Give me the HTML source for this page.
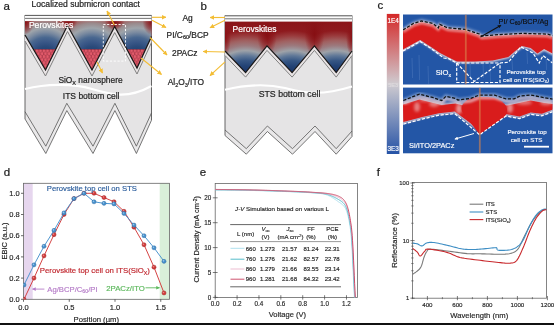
<!DOCTYPE html><html><head><meta charset="utf-8"><style>html,body{margin:0;padding:0;background:#fff;width:554px;height:325px;overflow:hidden}svg{display:block;will-change:transform}</style></head><body><svg width="554" height="325" viewBox="0 0 554 325" font-family="Liberation Sans, sans-serif">
<defs>
<pattern id="nano" width="3.5" height="6.06" patternUnits="userSpaceOnUse" x="1" y="0.6">
  <rect width="3.5" height="6.06" fill="#b23e4e"/>
  <circle cx="0.875" cy="1.515" r="1.42" fill="#e25a6a"/>
  <circle cx="2.625" cy="4.545" r="1.42" fill="#e25a6a"/>
</pattern>
<marker id="arrY" viewBox="0 0 10 10" refX="9" refY="5" markerWidth="4.6" markerHeight="4.6" orient="auto-start-reverse" markerUnits="userSpaceOnUse">
  <path d="M0,0 L10,5 L0,10 z" fill="#f3bd34"/>
</marker>
<marker id="arrW" viewBox="0 0 10 10" refX="9" refY="5" markerWidth="3.5" markerHeight="3.5" orient="auto" markerUnits="userSpaceOnUse">
  <path d="M0,0 L10,5 L0,10 z" fill="#ffffff"/>
</marker>
<marker id="arrK" viewBox="0 0 10 10" refX="9" refY="5" markerWidth="3.5" markerHeight="3.5" orient="auto" markerUnits="userSpaceOnUse">
  <path d="M0,0 L10,5 L0,10 z" fill="#111"/>
</marker>
<marker id="arrP" viewBox="0 0 10 10" refX="9" refY="5" markerWidth="3.6" markerHeight="3.6" orient="auto" markerUnits="userSpaceOnUse">
  <path d="M0,0 L10,5 L0,10 z" fill="#b57cc8"/>
</marker>
<marker id="arrG" viewBox="0 0 10 10" refX="9" refY="5" markerWidth="3.6" markerHeight="3.6" orient="auto" markerUnits="userSpaceOnUse">
  <path d="M0,0 L10,5 L0,10 z" fill="#5cb85c"/>
</marker>
<linearGradient id="cbar" x1="0" y1="0" x2="0" y2="1">
  <stop offset="0" stop-color="#d42828"/>
  <stop offset="0.5" stop-color="#cfcbd0"/>
  <stop offset="1" stop-color="#2653a6"/>
</linearGradient>
<filter id="blur1" x="-10%" y="-30%" width="120%" height="160%"><feGaussianBlur stdDeviation="1.2"/></filter>
<filter id="blur05" x="-10%" y="-30%" width="120%" height="160%"><feGaussianBlur stdDeviation="0.6"/></filter>

<radialGradient id="pa0" gradientUnits="userSpaceOnUse" cx="45.5" cy="58" r="44"><stop offset="0" stop-color="#183668"/><stop offset="0.26" stop-color="#2a4a7a"/><stop offset="0.37" stop-color="#3a5888"/><stop offset="0.47" stop-color="#4a6890"/><stop offset="0.58" stop-color="#7a8aa0"/><stop offset="0.68" stop-color="#9ea4aa"/><stop offset="0.79" stop-color="#9a8a8c"/><stop offset="0.89" stop-color="#a06060"/><stop offset="0.95" stop-color="#8e2a2a"/><stop offset="1" stop-color="#861818"/></radialGradient>
<radialGradient id="pa1" gradientUnits="userSpaceOnUse" cx="92" cy="58" r="44"><stop offset="0" stop-color="#183668"/><stop offset="0.26" stop-color="#2a4a7a"/><stop offset="0.37" stop-color="#3a5888"/><stop offset="0.47" stop-color="#4a6890"/><stop offset="0.58" stop-color="#7a8aa0"/><stop offset="0.68" stop-color="#9ea4aa"/><stop offset="0.79" stop-color="#9a8a8c"/><stop offset="0.89" stop-color="#a06060"/><stop offset="0.95" stop-color="#8e2a2a"/><stop offset="1" stop-color="#861818"/></radialGradient>
<radialGradient id="pa2" gradientUnits="userSpaceOnUse" cx="137" cy="58" r="44"><stop offset="0" stop-color="#183668"/><stop offset="0.26" stop-color="#2a4a7a"/><stop offset="0.37" stop-color="#3a5888"/><stop offset="0.47" stop-color="#4a6890"/><stop offset="0.58" stop-color="#7a8aa0"/><stop offset="0.68" stop-color="#9ea4aa"/><stop offset="0.79" stop-color="#9a8a8c"/><stop offset="0.89" stop-color="#a06060"/><stop offset="0.95" stop-color="#8e2a2a"/><stop offset="1" stop-color="#861818"/></radialGradient>
<radialGradient id="pb0" gradientUnits="userSpaceOnUse" cx="245.6" cy="90" r="70"><stop offset="0" stop-color="#163468"/><stop offset="0.277" stop-color="#1c386a"/><stop offset="0.349" stop-color="#244476"/><stop offset="0.42" stop-color="#365684"/><stop offset="0.491" stop-color="#607898"/><stop offset="0.563" stop-color="#9ea2a8"/><stop offset="0.634" stop-color="#9c7a7e"/><stop offset="0.706" stop-color="#a06060"/><stop offset="0.777" stop-color="#9a3a3c"/><stop offset="0.849" stop-color="#8e1a1e"/><stop offset="1" stop-color="#8a1418"/></radialGradient>
<radialGradient id="pb1" gradientUnits="userSpaceOnUse" cx="292.1" cy="90" r="70"><stop offset="0" stop-color="#163468"/><stop offset="0.277" stop-color="#1c386a"/><stop offset="0.349" stop-color="#244476"/><stop offset="0.42" stop-color="#365684"/><stop offset="0.491" stop-color="#607898"/><stop offset="0.563" stop-color="#9ea2a8"/><stop offset="0.634" stop-color="#9c7a7e"/><stop offset="0.706" stop-color="#a06060"/><stop offset="0.777" stop-color="#9a3a3c"/><stop offset="0.849" stop-color="#8e1a1e"/><stop offset="1" stop-color="#8a1418"/></radialGradient>
<radialGradient id="pb2" gradientUnits="userSpaceOnUse" cx="336.2" cy="90" r="70"><stop offset="0" stop-color="#163468"/><stop offset="0.277" stop-color="#1c386a"/><stop offset="0.349" stop-color="#244476"/><stop offset="0.42" stop-color="#365684"/><stop offset="0.491" stop-color="#607898"/><stop offset="0.563" stop-color="#9ea2a8"/><stop offset="0.634" stop-color="#9c7a7e"/><stop offset="0.706" stop-color="#a06060"/><stop offset="0.777" stop-color="#9a3a3c"/><stop offset="0.849" stop-color="#8e1a1e"/><stop offset="1" stop-color="#8a1418"/></radialGradient>
<radialGradient id="streak"><stop offset="0" stop-color="#860e12" stop-opacity="0.95"/><stop offset="0.6" stop-color="#8a1418" stop-opacity="0.5"/><stop offset="1" stop-color="#8a1418" stop-opacity="0"/></radialGradient>
</defs>
<rect width="554" height="325" fill="#ffffff"/>
<polygon points="25.00,15.00 151.50,15.00 151.50,112.90 136.40,146.20 114.90,103.30 93.00,146.20 66.80,103.30 45.80,146.20 25.00,111.70" fill="#e5e4e5"/>
<polygon points="25.00,111.70 45.80,146.20 66.80,103.30 93.00,146.20 114.90,103.30 136.40,146.20 151.50,112.90 151.50,120.20 136.40,153.50 114.90,110.60 93.00,153.50 66.80,110.60 45.80,153.50 25.00,119.00" fill="#e9e8e9"/>
<polyline points="25.00,111.70 45.80,146.20 66.80,103.30 93.00,146.20 114.90,103.30 136.40,146.20 151.50,112.90" fill="none" stroke="#555" stroke-width="0.8"/>
<polyline points="25.00,119.00 45.80,153.50 66.80,110.60 93.00,153.50 114.90,110.60 136.40,153.50 151.50,120.20" fill="none" stroke="#555" stroke-width="0.8"/>
<line x1="25" y1="15" x2="25" y2="119.0" stroke="#555" stroke-width="0.9"/>
<line x1="151.5" y1="15" x2="151.5" y2="120.2" stroke="#555" stroke-width="0.9"/>
<polygon points="25.00,35.00 45.50,70.00 67.50,25.50 92.00,70.00 114.70,26.50 137.00,68.00 151.50,36.50 151.50,42.50 137.00,74.00 114.70,32.50 92.00,76.00 67.50,31.50 45.50,76.00 25.00,41.00" fill="#e9e4e5"/>
<polyline points="25.00,41.00 45.50,76.00 67.50,31.50 92.00,76.00 114.70,32.50 137.00,74.00 151.50,42.50" fill="none" stroke="#808080" stroke-width="1"/>
<polygon points="25.00,21.10 151.50,21.10 151.50,36.50 137.00,68.00 114.70,26.50 92.00,70.00 67.50,25.50 45.50,70.00 25.00,35.00" fill="#8a1418"/>
<polygon points="25.00,21.10 67.50,21.10 67.50,25.50 55.63,49.50 33.49,49.50 25.00,35.00" fill="url(#pa0)"/>
<polygon points="67.50,21.10 114.70,21.10 114.70,26.50 102.70,49.50 80.71,49.50 67.50,25.50" fill="url(#pa1)"/>
<polygon points="114.70,21.10 151.50,21.10 151.50,36.50 145.52,49.50 127.06,49.50 114.70,26.50" fill="url(#pa2)"/>
<clipPath id="clippa"><polygon points="25.00,21.10 151.50,21.10 151.50,36.50 137.00,68.00 114.70,26.50 92.00,70.00 67.50,25.50 45.50,70.00 25.00,35.00"/></clipPath>
<g clip-path="url(#clippa)">
<ellipse cx="67.5" cy="21" rx="10" ry="9" fill="url(#streak)"/>
<ellipse cx="114.7" cy="21" rx="10" ry="9" fill="url(#streak)"/>
<ellipse cx="25" cy="22" rx="9" ry="13" fill="url(#streak)"/>
<ellipse cx="151.5" cy="22" rx="9" ry="13" fill="url(#streak)"/>
</g>
<polygon points="33.49,49.50 45.50,70.00 55.63,49.50" fill="url(#nano)"/>
<polygon points="80.71,49.50 92.00,70.00 102.70,49.50" fill="url(#nano)"/>
<polygon points="127.06,49.50 137.00,68.00 145.52,49.50" fill="url(#nano)"/>
<polyline points="25.00,35.00 45.50,70.00 67.50,25.50 92.00,70.00 114.70,26.50 137.00,68.00 151.50,36.50" fill="none" stroke="#1a1a1a" stroke-width="1.25" stroke-linejoin="miter"/>
<rect x="25" y="15" width="126.5" height="6.1" fill="#fbfbfb" stroke="none"/>
<line x1="25" y1="15.4" x2="151.5" y2="15.4" stroke="#555" stroke-width="1"/>
<line x1="25" y1="18.4" x2="151.5" y2="18.4" stroke="#666" stroke-width="0.9"/>
<path d="M25,89 C45,84 72,83 92,89 S128,99 151.5,86" fill="none" stroke="#ffffff" stroke-width="2.1"/>
<text x="58.4" y="82.9" font-size="8.4" fill="#262626" stroke="#262626" stroke-width="0.22" text-anchor="start" >SiO<tspan font-size="5.5" dy="1.6">X</tspan><tspan dy="-1.6"> nanosphere</tspan></text>
<text x="62.8" y="98.7" font-size="8.5" fill="#262626" stroke="#262626" stroke-width="0.22" text-anchor="start" >ITS bottom cell</text>
<text x="28.9" y="28.3" font-size="8.6" fill="#ffffff" stroke="#ffffff" stroke-width="0.22" text-anchor="start" >Perovskites</text>
<rect x="103.3" y="24.5" width="22.2" height="36.6" fill="none" stroke="#ffffff" stroke-width="0.9" stroke-dasharray="2.2,1.6"/>
<text x="31.5" y="7" font-size="8.6" fill="#262626" stroke="#262626" stroke-width="0.22" text-anchor="start" >Localized submicron contact</text>
<text x="3.5" y="9.5" font-size="11.5" fill="#222" stroke="#222" stroke-width="0.22" text-anchor="start" >a</text>
<polygon points="225.00,15.40 352.00,15.40 352.00,131.00 336.20,148.70 315.00,126.00 292.50,148.70 267.40,126.00 246.30,148.70 225.00,130.00" fill="#e5e4e5"/>
<polygon points="225.00,130.00 246.30,148.70 267.40,126.00 292.50,148.70 315.00,126.00 336.20,148.70 352.00,131.00 352.00,136.50 336.20,154.20 315.00,131.50 292.50,154.20 267.40,131.50 246.30,154.20 225.00,135.50" fill="#e9e8e9"/>
<polyline points="225.00,130.00 246.30,148.70 267.40,126.00 292.50,148.70 315.00,126.00 336.20,148.70 352.00,131.00" fill="none" stroke="#555" stroke-width="0.8"/>
<polyline points="225.00,135.50 246.30,154.20 267.40,131.50 292.50,154.20 315.00,131.50 336.20,154.20 352.00,136.50" fill="none" stroke="#555" stroke-width="0.8"/>
<line x1="225" y1="15.4" x2="225" y2="135.5" stroke="#555" stroke-width="0.9"/>
<line x1="352" y1="15.4" x2="352" y2="136.5" stroke="#555" stroke-width="0.9"/>
<polygon points="225.00,51.00 245.60,72.60 267.00,45.90 292.10,72.60 314.40,45.90 336.20,72.60 352.00,51.00 352.00,55.50 336.20,77.10 314.40,50.40 292.10,77.10 267.00,50.40 245.60,77.10 225.00,55.50" fill="#e9e4e5"/>
<polyline points="225.00,55.50 245.60,77.10 267.00,50.40 292.10,77.10 314.40,50.40 336.20,77.10 352.00,55.50" fill="none" stroke="#808080" stroke-width="1"/>
<polygon points="225.00,21.50 352.00,21.50 352.00,51.00 336.20,72.60 314.40,45.90 292.10,72.60 267.00,45.90 245.60,72.60 225.00,51.00" fill="#8a1418"/>
<polygon points="225.00,21.50 267.00,21.50 267.00,45.90 245.60,72.60 225.00,51.00" fill="url(#pb0)"/>
<polygon points="267.00,21.50 314.40,21.50 314.40,45.90 292.10,72.60 267.00,45.90" fill="url(#pb1)"/>
<polygon points="314.40,21.50 352.00,21.50 352.00,51.00 336.20,72.60 314.40,45.90" fill="url(#pb2)"/>
<clipPath id="clippb"><polygon points="225.00,21.50 352.00,21.50 352.00,51.00 336.20,72.60 314.40,45.90 292.10,72.60 267.00,45.90 245.60,72.60 225.00,51.00"/></clipPath>
<g clip-path="url(#clippb)">
<ellipse cx="267" cy="34" rx="10" ry="22" fill="url(#streak)"/>
<ellipse cx="314.4" cy="34" rx="10" ry="22" fill="url(#streak)"/>
<ellipse cx="225" cy="38" rx="6" ry="18" fill="url(#streak)"/>
<ellipse cx="352" cy="38" rx="6" ry="18" fill="url(#streak)"/>
</g>
<polyline points="225.00,51.00 245.60,72.60 267.00,45.90 292.10,72.60 314.40,45.90 336.20,72.60 352.00,51.00" fill="none" stroke="#1a1a1a" stroke-width="1.25" stroke-linejoin="miter"/>
<rect x="225" y="15.4" width="127" height="6.1" fill="#fbfbfb" stroke="none"/>
<line x1="225" y1="15.8" x2="352" y2="15.8" stroke="#555" stroke-width="1"/>
<line x1="225" y1="18.8" x2="352" y2="18.8" stroke="#666" stroke-width="0.9"/>
<path d="M225,89.7 C245,85 268,84 285,88 S318,97 352,86.4" fill="none" stroke="#ffffff" stroke-width="2.1"/>
<text x="258.7" y="97.2" font-size="8.75" fill="#262626" stroke="#262626" stroke-width="0.22" text-anchor="start" >STS bottom cell</text>
<text x="232.5" y="31.5" font-size="8.5" fill="#ffffff" stroke="#ffffff" stroke-width="0.22" text-anchor="start" >Perovskites</text>
<text x="200.5" y="9.5" font-size="11.5" fill="#222" stroke="#222" stroke-width="0.22" text-anchor="start" >b</text>
<text x="182.4" y="21" font-size="8.4" fill="#262626" stroke="#262626" stroke-width="0.22" text-anchor="start" >Ag</text>
<text x="166.6" y="37.5" font-size="8.4" fill="#262626" stroke="#262626" stroke-width="0.22" text-anchor="start" >PI/C<tspan font-size="5.5" dy="1.6">60</tspan><tspan dy="-1.6">/BCP</tspan></text>
<text x="172" y="56" font-size="8.4" fill="#262626" stroke="#262626" stroke-width="0.22" text-anchor="start" >2PACz</text>
<text x="167.7" y="85" font-size="8.4" fill="#262626" stroke="#262626" stroke-width="0.22" text-anchor="start" >Al<tspan font-size="5.5" dy="1.6">2</tspan><tspan dy="-1.6">O</tspan><tspan font-size="5.5" dy="1.6">3</tspan><tspan dy="-1.6">/ITO</tspan></text>
<line x1="152" y1="17.3" x2="166" y2="17.3" stroke="#f3bd34" stroke-width="1.15" marker-end="url(#arrY)"/>
<line x1="152" y1="20.3" x2="166" y2="27.5" stroke="#f3bd34" stroke-width="1.15" marker-end="url(#arrY)"/>
<line x1="150" y1="37.5" x2="167" y2="55" stroke="#f3bd34" stroke-width="1.15" marker-end="url(#arrY)"/>
<line x1="141" y1="58" x2="161.5" y2="74.5" stroke="#f3bd34" stroke-width="1.15" marker-end="url(#arrY)"/>
<line x1="225" y1="17.5" x2="210" y2="17.5" stroke="#f3bd34" stroke-width="1.15" marker-end="url(#arrY)"/>
<line x1="225" y1="20.3" x2="210" y2="27.7" stroke="#f3bd34" stroke-width="1.15" marker-end="url(#arrY)"/>
<line x1="225" y1="52" x2="203" y2="51.5" stroke="#f3bd34" stroke-width="1.15" marker-end="url(#arrY)"/>
<line x1="225" y1="61.8" x2="210" y2="75.6" stroke="#f3bd34" stroke-width="1.15" marker-end="url(#arrY)"/>
<line x1="114.4" y1="25" x2="107" y2="11" stroke="#f3bd34" stroke-width="1.15" marker-end="url(#arrY)"/>
<line x1="97" y1="62" x2="102.5" y2="73" stroke="#f3bd34" stroke-width="1.15" marker-end="url(#arrY)"/>
<text x="377.5" y="9" font-size="11.5" fill="#222" stroke="#222" stroke-width="0.22" text-anchor="start" >c</text>
<rect x="386.8" y="13.9" width="12.6" height="140.1" fill="url(#cbar)"/>
<text x="393.1" y="22.9" font-size="6.4" fill="#ffffff" stroke="#ffffff" stroke-width="0.16" text-anchor="middle" >1E4</text>
<text x="393.1" y="86.6" font-size="5.5" fill="#e8e4e6" stroke="#e8e4e6" stroke-width="0.16" text-anchor="middle" opacity="0.6">5E3</text>
<text x="393.1" y="150.9" font-size="6.4" fill="#ffffff" stroke="#ffffff" stroke-width="0.16" text-anchor="middle" >3E3</text>
<clipPath id="cc1"><rect x="403" y="14.5" width="149.5" height="70"/></clipPath>
<clipPath id="cc2"><rect x="403" y="87.6" width="149.5" height="65.7"/></clipPath>
<rect x="403" y="14.5" width="149.5" height="70" fill="#2356a6"/>
<g clip-path="url(#cc1)">
<polyline points="403.00,28.80 413.70,22.10 421.70,19.80 433.20,22.40 438.30,26.70 439.70,23.10 447.70,26.70 465.00,28.10 479.20,32.80 481.40,34.80 498.60,33.40 523.20,32.20 547.80,32.90 552.50,34.60" fill="none" stroke="#9fb6dc" stroke-width="2.5" opacity="0.5" filter="url(#blur1)"/>
<polygon points="403.00,31.00 413.70,24.40 421.70,22.20 433.20,24.80 438.30,29.00 439.70,25.50 447.70,29.00 465.00,30.50 479.20,35.20 481.40,37.20 498.60,35.80 523.20,34.60 547.80,35.30 552.50,37.00 552.50,53.50 544.10,49.00 537.40,53.50 530.70,47.90 521.80,46.10 515.00,51.30 508.30,56.90 492.70,60.50 474.80,61.50 456.90,61.50 446.80,56.40 440.00,53.00 430.30,46.50 420.20,40.00 403.00,49.50" fill="none" stroke="#f4dede" stroke-width="2.6" filter="url(#blur1)"/>
<polygon points="403.00,31.00 413.70,24.40 421.70,22.20 433.20,24.80 438.30,29.00 439.70,25.50 447.70,29.00 465.00,30.50 479.20,35.20 481.40,37.20 498.60,35.80 523.20,34.60 547.80,35.30 552.50,37.00 552.50,53.50 544.10,49.00 537.40,53.50 530.70,47.90 521.80,46.10 515.00,51.30 508.30,56.90 492.70,60.50 474.80,61.50 456.90,61.50 446.80,56.40 440.00,53.00 430.30,46.50 420.20,40.00 403.00,49.50" fill="#d91b1d" filter="url(#blur05)"/>
<polyline points="403.00,31.80 413.70,25.20 421.70,23.00 433.20,25.60 438.30,29.80 439.70,26.30 447.70,29.80 465.00,31.30 479.20,36.00 481.40,38.00 498.60,36.60 523.20,35.40 547.80,36.10 552.50,37.80" fill="none" stroke="#f0c8c8" stroke-width="2.2" opacity="0.75" filter="url(#blur1)"/>
<line x1="412" y1="58" x2="412.6" y2="78" stroke="#8fb0e0" stroke-width="0.8" opacity="0.25"/>
<line x1="419" y1="55" x2="419.6" y2="80" stroke="#8fb0e0" stroke-width="0.8" opacity="0.25"/>
<line x1="428" y1="66" x2="428.6" y2="84" stroke="#8fb0e0" stroke-width="0.8" opacity="0.25"/>
<line x1="470" y1="64" x2="470.6" y2="80" stroke="#8fb0e0" stroke-width="0.8" opacity="0.25"/>
<line x1="483" y1="62" x2="483.6" y2="78" stroke="#8fb0e0" stroke-width="0.8" opacity="0.25"/>
<line x1="490" y1="64" x2="490.6" y2="84" stroke="#8fb0e0" stroke-width="0.8" opacity="0.25"/>
<line x1="512" y1="60" x2="512.6" y2="70" stroke="#8fb0e0" stroke-width="0.8" opacity="0.25"/>
<line x1="527" y1="52" x2="527.6" y2="64" stroke="#8fb0e0" stroke-width="0.8" opacity="0.25"/>
<line x1="546" y1="56" x2="546.6" y2="70" stroke="#8fb0e0" stroke-width="0.8" opacity="0.25"/>
<polyline points="403.00,30.00 413.70,23.30 421.70,21.00 433.20,23.60 438.30,27.90 439.70,24.30 447.70,27.90 465.00,29.30 479.20,34.00 481.40,36.00 498.60,34.60 523.20,33.40 547.80,34.10 552.50,35.80" fill="none" stroke="#111" stroke-width="1.3" stroke-dasharray="3.2,1.6"/>
<polyline points="403.00,51.00 420.20,41.60 430.30,48.10 435.00,51.40 443.70,58.00 448.80,58.70 456.70,63.00 500.00,63.00 508.50,62.20 520.80,46.90 533.00,53.00 539.20,63.00 543.00,55.50 552.50,63.00" fill="none" stroke="#fff" stroke-width="1.2" stroke-dasharray="3.2,1.6"/>
<polyline points="456.7,63 456.7,82.5 500,82.5 500,63" fill="none" stroke="#fff" stroke-width="1.2" stroke-dasharray="3.2,1.6"/>
<polyline points="456.7,63 474,81.5 500,63" fill="none" stroke="#fff" stroke-width="1.2" stroke-dasharray="3.2,1.6"/>
<rect x="464.9" y="14.5" width="1.8" height="70" fill="#d8844c" opacity="0.6"/>
</g>
<text x="435.8" y="75" font-size="7.6" fill="#ffffff" stroke="#ffffff" stroke-width="0.16" text-anchor="start" >SiO<tspan font-size="5.2" dy="1.5">x</tspan></text>
<text x="526" y="74" font-size="6.2" fill="#f4f6fb" stroke="#f4f6fb" stroke-width="0.16" text-anchor="middle" >Perovskite top</text>
<text x="526" y="81.5" font-size="6.2" fill="#f4f6fb" stroke="#f4f6fb" stroke-width="0.16" text-anchor="middle" >cell on ITS(SiO<tspan font-size="4.5" dy="1.2">x</tspan><tspan dy="-1.2">)</tspan></text>
<text x="498.6" y="23.5" font-size="7.3" fill="#111" stroke="#111" stroke-width="0.16" text-anchor="start" >PI/ C<tspan font-size="5" dy="1.4">60</tspan><tspan dy="-1.4">/BCP/Ag</tspan></text>
<line x1="480.5" y1="37" x2="501" y2="25.3" stroke="#111" stroke-width="1.1" marker-end="url(#arrK)"/>
<rect x="403" y="87.6" width="149.5" height="65.7" fill="#2356a6"/>
<g clip-path="url(#cc2)">
<polyline points="403.30,100.50 419.50,94.10 433.40,97.70 441.70,100.50 445.90,96.30 455.60,98.50 458.00,100.00 470.80,98.40 478.80,95.20 494.70,95.20 505.90,98.90 513.90,98.90 520.00,96.00 530.70,95.00 544.60,97.70 552.90,99.10" fill="none" stroke="#a9bfe2" stroke-width="4" opacity="0.55" filter="url(#blur1)"/>
<polygon points="403.00,104.50 419.50,99.50 433.40,103.00 441.70,105.00 455.60,103.50 465.00,106.00 479.00,105.00 495.00,105.00 508.00,105.50 516.80,103.50 530.70,100.50 544.60,103.00 552.90,104.00 552.90,109.60 541.80,113.80 530.70,112.40 519.50,116.60 505.90,114.00 479.60,130.00 454.80,111.60 438.90,113.20 422.20,117.10 403.30,122.10" fill="none" stroke="#f2d4d4" stroke-width="2.4" filter="url(#blur1)"/>
<polygon points="403.00,104.50 419.50,99.50 433.40,103.00 441.70,105.00 455.60,103.50 465.00,106.00 479.00,105.00 495.00,105.00 508.00,105.50 516.80,103.50 530.70,100.50 544.60,103.00 552.90,104.00 552.90,109.60 541.80,113.80 530.70,112.40 519.50,116.60 505.90,114.00 479.60,130.00 454.80,111.60 438.90,113.20 422.20,117.10 403.30,122.10" fill="#d91b1d" filter="url(#blur05)"/>
<filter id="blur2" x="-50%" y="-50%" width="200%" height="200%"><feGaussianBlur stdDeviation="1.8"/></filter>
<ellipse cx="417" cy="107" rx="3" ry="5" fill="#f0c4c4" opacity="0.6" filter="url(#blur2)"/>
<ellipse cx="434" cy="104" rx="5" ry="3" fill="#f0c4c4" opacity="0.55" filter="url(#blur2)"/>
<ellipse cx="459" cy="109" rx="3" ry="5" fill="#f0c4c4" opacity="0.7" filter="url(#blur2)"/>
<ellipse cx="510" cy="108" rx="3" ry="5" fill="#f0c4c4" opacity="0.65" filter="url(#blur2)"/>
<ellipse cx="524" cy="102.5" rx="8" ry="2.5" fill="#f0c4c4" opacity="0.5" filter="url(#blur2)"/>
<ellipse cx="546" cy="103" rx="6" ry="2.5" fill="#f0c4c4" opacity="0.5" filter="url(#blur2)"/>
<ellipse cx="405" cy="102" rx="5" ry="2" fill="#f0c4c4" opacity="0.4" filter="url(#blur2)"/>
<ellipse cx="425" cy="100" rx="6" ry="2" fill="#f0c4c4" opacity="0.45" filter="url(#blur2)"/>
<ellipse cx="441" cy="102" rx="4" ry="2" fill="#f0c4c4" opacity="0.4" filter="url(#blur2)"/>
<path d="M463,113 C460,108 462,104 466,101 C471,97.5 480,96.5 491.5,97.4 C498,98 503,101 506,106 C508,110 507,114 504.5,117 L479.6,134.6 Z" fill="#d91b1d" filter="url(#blur05)"/>
<polyline points="403.30,103.10 419.50,96.70 433.40,100.30 441.70,103.10 445.90,98.90 455.60,101.10 458.00,102.60 470.80,101.00 478.80,97.80 494.70,97.80 505.90,101.50 513.90,101.50 520.00,98.60 530.70,97.60 544.60,100.30 552.90,101.70" fill="none" stroke="#e6cad2" stroke-width="3" opacity="0.75" filter="url(#blur1)"/>
<polyline points="403.30,100.50 419.50,94.10 433.40,97.70 441.70,100.50 445.90,96.30 455.60,98.50 458.00,100.00 470.80,98.40 478.80,95.20 494.70,95.20 505.90,98.90 513.90,98.90 520.00,96.00 530.70,95.00 544.60,97.70 552.90,99.10" fill="none" stroke="#111" stroke-width="1.3" stroke-dasharray="3.2,1.6"/>
<polyline points="403.30,124.10 422.20,119.10 438.90,115.20 454.80,113.60 479.60,134.80 505.90,116.00 519.50,118.60 530.70,114.40 541.80,115.80 552.90,111.60" fill="none" stroke="#fff" stroke-width="1.2" stroke-dasharray="3.2,1.6"/>
<rect x="478.9" y="87.6" width="1.8" height="66" fill="#d8844c" opacity="0.6"/>
</g>
<line x1="474" y1="133.5" x2="454.8" y2="139.1" stroke="#fff" stroke-width="1" marker-end="url(#arrW)"/>
<text x="409.1" y="148" font-size="7.4" fill="#ffffff" stroke="#ffffff" stroke-width="0.16" text-anchor="start" >Si/ITO/2PACz</text>
<text x="527" y="134.2" font-size="6.2" fill="#f4f6fb" stroke="#f4f6fb" stroke-width="0.16" text-anchor="middle" >Perovskite top</text>
<text x="526.5" y="141.6" font-size="6.2" fill="#f4f6fb" stroke="#f4f6fb" stroke-width="0.16" text-anchor="middle" >cell on STS</text>
<rect x="524" y="145.8" width="25" height="1.8" fill="#ffffff"/>
<text x="3.8" y="176" font-size="11.5" fill="#222" stroke="#222" stroke-width="0.22" text-anchor="start" >d</text>
<rect x="23.5" y="183.3" width="9.2" height="116" fill="#e6d6ee"/>
<rect x="159.7" y="183.3" width="9.8" height="116" fill="#d9efd9"/>
<rect x="23.5" y="183.3" width="146" height="116" fill="none" stroke="#666" stroke-width="0.8"/>
<line x1="21" y1="299.30" x2="23.5" y2="299.30" stroke="#444" stroke-width="0.8"/>
<text x="19.8" y="302.0" font-size="7.5" fill="#262626" stroke="#262626" stroke-width="0.16" text-anchor="end" >0.0</text>
<line x1="21" y1="278.10" x2="23.5" y2="278.10" stroke="#444" stroke-width="0.8"/>
<text x="19.8" y="280.8" font-size="7.5" fill="#262626" stroke="#262626" stroke-width="0.16" text-anchor="end" >0.2</text>
<line x1="21" y1="256.90" x2="23.5" y2="256.90" stroke="#444" stroke-width="0.8"/>
<text x="19.8" y="259.59999999999997" font-size="7.5" fill="#262626" stroke="#262626" stroke-width="0.16" text-anchor="end" >0.4</text>
<line x1="21" y1="235.70" x2="23.5" y2="235.70" stroke="#444" stroke-width="0.8"/>
<text x="19.8" y="238.4" font-size="7.5" fill="#262626" stroke="#262626" stroke-width="0.16" text-anchor="end" >0.6</text>
<line x1="21" y1="214.50" x2="23.5" y2="214.50" stroke="#444" stroke-width="0.8"/>
<text x="19.8" y="217.2" font-size="7.5" fill="#262626" stroke="#262626" stroke-width="0.16" text-anchor="end" >0.8</text>
<line x1="21" y1="193.30" x2="23.5" y2="193.30" stroke="#444" stroke-width="0.8"/>
<text x="19.8" y="196.0" font-size="7.5" fill="#262626" stroke="#262626" stroke-width="0.16" text-anchor="end" >1.0</text>
<line x1="23.50" y1="299.3" x2="23.50" y2="301.8" stroke="#444" stroke-width="0.8"/>
<text x="23.5" y="309.7" font-size="7.5" fill="#262626" stroke="#262626" stroke-width="0.16" text-anchor="middle" >0.0</text>
<line x1="69.25" y1="299.3" x2="69.25" y2="301.8" stroke="#444" stroke-width="0.8"/>
<text x="69.25" y="309.7" font-size="7.5" fill="#262626" stroke="#262626" stroke-width="0.16" text-anchor="middle" >0.5</text>
<line x1="115.00" y1="299.3" x2="115.00" y2="301.8" stroke="#444" stroke-width="0.8"/>
<text x="115.0" y="309.7" font-size="7.5" fill="#262626" stroke="#262626" stroke-width="0.16" text-anchor="middle" >1.0</text>
<line x1="160.75" y1="299.3" x2="160.75" y2="301.8" stroke="#444" stroke-width="0.8"/>
<text x="160.75" y="309.7" font-size="7.5" fill="#262626" stroke="#262626" stroke-width="0.16" text-anchor="middle" >1.5</text>
<text x="73.6" y="321.8" font-size="7.7" fill="#262626" stroke="#262626" stroke-width="0.16" text-anchor="start" >Position (µm)</text>
<text transform="translate(7,241) rotate(-90)" font-size="7.5" fill="#262626" stroke="#262626" stroke-width="0.18" text-anchor="middle">EBIC (a.u.)</text>
<clipPath id="cd"><rect x="23.5" y="170" width="146" height="129.5"/></clipPath>
<g clip-path="url(#cd)">
<polyline points="24.00,299.30 34.00,278.10 44.00,255.84 54.00,234.64 64.00,214.50 74.00,198.60 84.00,193.30 94.00,193.30 104.00,197.54 114.00,201.78 124.00,211.32 134.00,227.22 144.00,244.71 154.00,267.18 164.00,292.94" fill="none" stroke="#d23a3a" stroke-width="0.95"/>
<circle cx="24.00" cy="299.30" r="2.05" fill="#d23a3a" stroke="#9a1a1a" stroke-width="0.45"/>
<circle cx="23.50" cy="298.80" r="0.8" fill="#f4a0a0" opacity="0.75"/>
<circle cx="34.00" cy="278.10" r="2.05" fill="#d23a3a" stroke="#9a1a1a" stroke-width="0.45"/>
<circle cx="33.50" cy="277.60" r="0.8" fill="#f4a0a0" opacity="0.75"/>
<circle cx="44.00" cy="255.84" r="2.05" fill="#d23a3a" stroke="#9a1a1a" stroke-width="0.45"/>
<circle cx="43.50" cy="255.34" r="0.8" fill="#f4a0a0" opacity="0.75"/>
<circle cx="54.00" cy="234.64" r="2.05" fill="#d23a3a" stroke="#9a1a1a" stroke-width="0.45"/>
<circle cx="53.50" cy="234.14" r="0.8" fill="#f4a0a0" opacity="0.75"/>
<circle cx="64.00" cy="214.50" r="2.05" fill="#d23a3a" stroke="#9a1a1a" stroke-width="0.45"/>
<circle cx="63.50" cy="214.00" r="0.8" fill="#f4a0a0" opacity="0.75"/>
<circle cx="74.00" cy="198.60" r="2.05" fill="#d23a3a" stroke="#9a1a1a" stroke-width="0.45"/>
<circle cx="73.50" cy="198.10" r="0.8" fill="#f4a0a0" opacity="0.75"/>
<circle cx="84.00" cy="193.30" r="2.05" fill="#d23a3a" stroke="#9a1a1a" stroke-width="0.45"/>
<circle cx="83.50" cy="192.80" r="0.8" fill="#f4a0a0" opacity="0.75"/>
<circle cx="94.00" cy="193.30" r="2.05" fill="#d23a3a" stroke="#9a1a1a" stroke-width="0.45"/>
<circle cx="93.50" cy="192.80" r="0.8" fill="#f4a0a0" opacity="0.75"/>
<circle cx="104.00" cy="197.54" r="2.05" fill="#d23a3a" stroke="#9a1a1a" stroke-width="0.45"/>
<circle cx="103.50" cy="197.04" r="0.8" fill="#f4a0a0" opacity="0.75"/>
<circle cx="114.00" cy="201.78" r="2.05" fill="#d23a3a" stroke="#9a1a1a" stroke-width="0.45"/>
<circle cx="113.50" cy="201.28" r="0.8" fill="#f4a0a0" opacity="0.75"/>
<circle cx="124.00" cy="211.32" r="2.05" fill="#d23a3a" stroke="#9a1a1a" stroke-width="0.45"/>
<circle cx="123.50" cy="210.82" r="0.8" fill="#f4a0a0" opacity="0.75"/>
<circle cx="134.00" cy="227.22" r="2.05" fill="#d23a3a" stroke="#9a1a1a" stroke-width="0.45"/>
<circle cx="133.50" cy="226.72" r="0.8" fill="#f4a0a0" opacity="0.75"/>
<circle cx="144.00" cy="244.71" r="2.05" fill="#d23a3a" stroke="#9a1a1a" stroke-width="0.45"/>
<circle cx="143.50" cy="244.21" r="0.8" fill="#f4a0a0" opacity="0.75"/>
<circle cx="154.00" cy="267.18" r="2.05" fill="#d23a3a" stroke="#9a1a1a" stroke-width="0.45"/>
<circle cx="153.50" cy="266.68" r="0.8" fill="#f4a0a0" opacity="0.75"/>
<circle cx="164.00" cy="292.94" r="2.05" fill="#d23a3a" stroke="#9a1a1a" stroke-width="0.45"/>
<circle cx="163.50" cy="292.44" r="0.8" fill="#f4a0a0" opacity="0.75"/>
<polyline points="24.00,284.99 34.00,264.85 44.00,246.30 54.00,230.40 64.00,212.91 74.00,198.60 84.00,193.30 94.00,201.78 104.00,203.37 114.00,203.90 124.00,213.44 134.00,225.10 144.00,235.70 154.00,247.78 164.00,261.35" fill="none" stroke="#4690cc" stroke-width="0.95"/>
<circle cx="24.00" cy="284.99" r="2.05" fill="#4690cc" stroke="#2a68a0" stroke-width="0.45"/>
<circle cx="23.50" cy="284.49" r="0.8" fill="#b0d8f6" opacity="0.75"/>
<circle cx="34.00" cy="264.85" r="2.05" fill="#4690cc" stroke="#2a68a0" stroke-width="0.45"/>
<circle cx="33.50" cy="264.35" r="0.8" fill="#b0d8f6" opacity="0.75"/>
<circle cx="44.00" cy="246.30" r="2.05" fill="#4690cc" stroke="#2a68a0" stroke-width="0.45"/>
<circle cx="43.50" cy="245.80" r="0.8" fill="#b0d8f6" opacity="0.75"/>
<circle cx="54.00" cy="230.40" r="2.05" fill="#4690cc" stroke="#2a68a0" stroke-width="0.45"/>
<circle cx="53.50" cy="229.90" r="0.8" fill="#b0d8f6" opacity="0.75"/>
<circle cx="64.00" cy="212.91" r="2.05" fill="#4690cc" stroke="#2a68a0" stroke-width="0.45"/>
<circle cx="63.50" cy="212.41" r="0.8" fill="#b0d8f6" opacity="0.75"/>
<circle cx="74.00" cy="198.60" r="2.05" fill="#4690cc" stroke="#2a68a0" stroke-width="0.45"/>
<circle cx="73.50" cy="198.10" r="0.8" fill="#b0d8f6" opacity="0.75"/>
<circle cx="84.00" cy="193.30" r="2.05" fill="#4690cc" stroke="#2a68a0" stroke-width="0.45"/>
<circle cx="83.50" cy="192.80" r="0.8" fill="#b0d8f6" opacity="0.75"/>
<circle cx="94.00" cy="201.78" r="2.05" fill="#4690cc" stroke="#2a68a0" stroke-width="0.45"/>
<circle cx="93.50" cy="201.28" r="0.8" fill="#b0d8f6" opacity="0.75"/>
<circle cx="104.00" cy="203.37" r="2.05" fill="#4690cc" stroke="#2a68a0" stroke-width="0.45"/>
<circle cx="103.50" cy="202.87" r="0.8" fill="#b0d8f6" opacity="0.75"/>
<circle cx="114.00" cy="203.90" r="2.05" fill="#4690cc" stroke="#2a68a0" stroke-width="0.45"/>
<circle cx="113.50" cy="203.40" r="0.8" fill="#b0d8f6" opacity="0.75"/>
<circle cx="124.00" cy="213.44" r="2.05" fill="#4690cc" stroke="#2a68a0" stroke-width="0.45"/>
<circle cx="123.50" cy="212.94" r="0.8" fill="#b0d8f6" opacity="0.75"/>
<circle cx="134.00" cy="225.10" r="2.05" fill="#4690cc" stroke="#2a68a0" stroke-width="0.45"/>
<circle cx="133.50" cy="224.60" r="0.8" fill="#b0d8f6" opacity="0.75"/>
<circle cx="144.00" cy="235.70" r="2.05" fill="#4690cc" stroke="#2a68a0" stroke-width="0.45"/>
<circle cx="143.50" cy="235.20" r="0.8" fill="#b0d8f6" opacity="0.75"/>
<circle cx="154.00" cy="247.78" r="2.05" fill="#4690cc" stroke="#2a68a0" stroke-width="0.45"/>
<circle cx="153.50" cy="247.28" r="0.8" fill="#b0d8f6" opacity="0.75"/>
<circle cx="164.00" cy="261.35" r="2.05" fill="#4690cc" stroke="#2a68a0" stroke-width="0.45"/>
<circle cx="163.50" cy="260.85" r="0.8" fill="#b0d8f6" opacity="0.75"/>
</g>
<text x="46.8" y="190.6" font-size="7.7" fill="#2b5d9c" stroke="#2b5d9c" stroke-width="0.16" text-anchor="start" >Perovskite top cell on STS</text>
<text x="39.8" y="273.4" font-size="7.8" fill="#c0262e" stroke="#c0262e" stroke-width="0.16" text-anchor="start" >Perovskite top cell on ITS(SiO<tspan font-size="5.2" dy="1.6">X</tspan><tspan dy="-1.6">)</tspan></text>
<line x1="44.4" y1="289.1" x2="32.5" y2="289.1" stroke="#b57cc8" stroke-width="0.9" marker-end="url(#arrP)"/>
<text x="47.3" y="291.8" font-size="7.7" fill="#b57cc8" stroke="#b57cc8" stroke-width="0.16" text-anchor="start" >Ag/BCP/C<tspan font-size="5.2" dy="1.6">60</tspan><tspan dy="-1.6">/PI</tspan></text>
<text x="106.2" y="290.6" font-size="7.8" fill="#5cb85c" stroke="#5cb85c" stroke-width="0.16" text-anchor="start" >2PACz/ITO</text>
<line x1="145.5" y1="287.8" x2="159.5" y2="287.8" stroke="#5cb85c" stroke-width="0.9" marker-end="url(#arrG)"/>
<text x="199.8" y="176" font-size="11.5" fill="#222" stroke="#222" stroke-width="0.22" text-anchor="start" >e</text>
<rect x="215.2" y="183.5" width="142.2" height="113.9" fill="none" stroke="#666" stroke-width="0.8"/>
<line x1="212.8" y1="297.40" x2="217.6" y2="297.40" stroke="#444" stroke-width="0.7"/>
<text x="211.3" y="299.7" font-size="6.3" fill="#262626" stroke="#262626" stroke-width="0.16" text-anchor="end" >0</text>
<line x1="212.8" y1="272.50" x2="217.6" y2="272.50" stroke="#444" stroke-width="0.7"/>
<text x="211.3" y="274.8" font-size="6.3" fill="#262626" stroke="#262626" stroke-width="0.16" text-anchor="end" >5</text>
<line x1="212.8" y1="247.60" x2="217.6" y2="247.60" stroke="#444" stroke-width="0.7"/>
<text x="211.3" y="249.89999999999998" font-size="6.3" fill="#262626" stroke="#262626" stroke-width="0.16" text-anchor="end" >10</text>
<line x1="212.8" y1="222.70" x2="217.6" y2="222.70" stroke="#444" stroke-width="0.7"/>
<text x="211.3" y="225.0" font-size="6.3" fill="#262626" stroke="#262626" stroke-width="0.16" text-anchor="end" >15</text>
<line x1="212.8" y1="197.80" x2="217.6" y2="197.80" stroke="#444" stroke-width="0.7"/>
<text x="211.3" y="200.09999999999997" font-size="6.3" fill="#262626" stroke="#262626" stroke-width="0.16" text-anchor="end" >20</text>
<line x1="215.20" y1="295.2" x2="215.20" y2="299.6" stroke="#444" stroke-width="0.7"/>
<text x="215.2" y="306.4" font-size="6.3" fill="#262626" stroke="#262626" stroke-width="0.16" text-anchor="middle" >0.0</text>
<line x1="237.08" y1="295.2" x2="237.08" y2="299.6" stroke="#444" stroke-width="0.7"/>
<text x="237.07999999999998" y="306.4" font-size="6.3" fill="#262626" stroke="#262626" stroke-width="0.16" text-anchor="middle" >0.2</text>
<line x1="258.96" y1="295.2" x2="258.96" y2="299.6" stroke="#444" stroke-width="0.7"/>
<text x="258.96" y="306.4" font-size="6.3" fill="#262626" stroke="#262626" stroke-width="0.16" text-anchor="middle" >0.4</text>
<line x1="280.84" y1="295.2" x2="280.84" y2="299.6" stroke="#444" stroke-width="0.7"/>
<text x="280.84000000000003" y="306.4" font-size="6.3" fill="#262626" stroke="#262626" stroke-width="0.16" text-anchor="middle" >0.6</text>
<line x1="302.72" y1="295.2" x2="302.72" y2="299.6" stroke="#444" stroke-width="0.7"/>
<text x="302.72" y="306.4" font-size="6.3" fill="#262626" stroke="#262626" stroke-width="0.16" text-anchor="middle" >0.8</text>
<line x1="324.60" y1="295.2" x2="324.60" y2="299.6" stroke="#444" stroke-width="0.7"/>
<text x="324.6" y="306.4" font-size="6.3" fill="#262626" stroke="#262626" stroke-width="0.16" text-anchor="middle" >1.0</text>
<line x1="346.48" y1="295.2" x2="346.48" y2="299.6" stroke="#444" stroke-width="0.7"/>
<text x="346.48" y="306.4" font-size="6.3" fill="#262626" stroke="#262626" stroke-width="0.16" text-anchor="middle" >1.2</text>
<text x="268.7" y="317.3" font-size="7.55" fill="#262626" stroke="#262626" stroke-width="0.16" text-anchor="start" >Voltage (V)</text>
<text transform="translate(199.3,239.3) rotate(-90)" font-size="7.5" fill="#262626" stroke="#262626" stroke-width="0.18" text-anchor="middle">Current Density (mA cm<tspan font-size="5" dy="-2.5">-2</tspan><tspan dy="2.5">)</tspan></text>
<clipPath id="ce"><rect x="215.2" y="183.5" width="142.2" height="113.9"/></clipPath><g clip-path="url(#ce)">
<polyline points="215.20,189.98 215.55,189.99 215.90,189.99 216.24,189.99 216.59,190.00 216.94,190.00 217.29,190.01 217.64,190.01 217.99,190.01 218.33,190.02 218.68,190.02 219.03,190.02 219.38,190.03 219.73,190.03 220.07,190.03 220.42,190.04 220.77,190.04 221.12,190.04 221.47,190.05 221.82,190.05 222.16,190.05 222.51,190.06 222.86,190.06 223.21,190.06 223.56,190.07 223.90,190.07 224.25,190.07 224.60,190.08 224.95,190.08 225.30,190.08 225.64,190.09 225.99,190.09 226.34,190.09 226.69,190.09 227.04,190.10 227.39,190.10 227.73,190.10 228.08,190.11 228.43,190.11 228.78,190.11 229.13,190.12 229.47,190.12 229.82,190.12 230.17,190.13 230.52,190.13 230.87,190.13 231.22,190.14 231.56,190.14 231.91,190.14 232.26,190.15 232.61,190.15 232.96,190.15 233.30,190.16 233.65,190.16 234.00,190.16 234.35,190.17 234.70,190.17 235.05,190.18 235.39,190.18 235.74,190.18 236.09,190.19 236.44,190.19 236.79,190.20 237.13,190.20 237.48,190.20 237.83,190.21 238.18,190.21 238.53,190.22 238.88,190.22 239.22,190.23 239.57,190.23 239.92,190.24 240.27,190.24 240.62,190.25 240.96,190.25 241.31,190.26 241.66,190.26 242.01,190.27 242.36,190.27 242.71,190.28 243.05,190.29 243.40,190.29 243.75,190.30 244.10,190.30 244.45,190.31 244.79,190.32 245.14,190.32 245.49,190.33 245.84,190.34 246.19,190.34 246.53,190.35 246.88,190.36 247.23,190.37 247.58,190.37 247.93,190.38 248.28,190.39 248.62,190.40 248.97,190.40 249.32,190.41 249.67,190.42 250.02,190.43 250.36,190.44 250.71,190.44 251.06,190.45 251.41,190.46 251.76,190.47 252.11,190.48 252.45,190.49 252.80,190.49 253.15,190.50 253.50,190.51 253.85,190.52 254.19,190.53 254.54,190.54 254.89,190.55 255.24,190.56 255.59,190.57 255.94,190.57 256.28,190.58 256.63,190.59 256.98,190.60 257.33,190.61 257.68,190.62 258.02,190.63 258.37,190.64 258.72,190.65 259.07,190.66 259.42,190.67 259.77,190.68 260.11,190.69 260.46,190.70 260.81,190.71 261.16,190.72 261.51,190.73 261.85,190.74 262.20,190.75 262.55,190.76 262.90,190.77 263.25,190.78 263.60,190.79 263.94,190.80 264.29,190.81 264.64,190.82 264.99,190.83 265.34,190.84 265.68,190.86 266.03,190.87 266.38,190.88 266.73,190.89 267.08,190.90 267.42,190.91 267.77,190.92 268.12,190.93 268.47,190.94 268.82,190.96 269.17,190.97 269.51,190.98 269.86,190.99 270.21,191.00 270.56,191.01 270.91,191.02 271.25,191.04 271.60,191.05 271.95,191.06 272.30,191.07 272.65,191.08 273.00,191.09 273.34,191.11 273.69,191.12 274.04,191.13 274.39,191.14 274.74,191.15 275.08,191.17 275.43,191.18 275.78,191.19 276.13,191.20 276.48,191.22 276.83,191.23 277.17,191.24 277.52,191.25 277.87,191.27 278.22,191.28 278.57,191.29 278.91,191.30 279.26,191.32 279.61,191.33 279.96,191.34 280.31,191.36 280.66,191.37 281.00,191.38 281.35,191.40 281.70,191.41 282.05,191.42 282.40,191.43 282.74,191.45 283.09,191.46 283.44,191.47 283.79,191.49 284.14,191.50 284.48,191.51 284.83,191.53 285.18,191.54 285.53,191.56 285.88,191.57 286.23,191.58 286.57,191.60 286.92,191.61 287.27,191.62 287.62,191.64 287.97,191.65 288.31,191.67 288.66,191.68 289.01,191.69 289.36,191.71 289.71,191.72 290.06,191.74 290.40,191.75 290.75,191.76 291.10,191.78 291.45,191.79 291.80,191.80 292.14,191.82 292.49,191.83 292.84,191.84 293.19,191.86 293.54,191.87 293.89,191.88 294.23,191.90 294.58,191.91 294.93,191.93 295.28,191.94 295.63,191.95 295.97,191.97 296.32,191.98 296.67,191.99 297.02,192.01 297.37,192.02 297.72,192.04 298.06,192.05 298.41,192.06 298.76,192.08 299.11,192.09 299.46,192.11 299.80,192.12 300.15,192.14 300.50,192.15 300.85,192.17 301.20,192.19 301.55,192.20 301.89,192.22 302.24,192.24 302.59,192.25 302.94,192.27 303.29,192.29 303.63,192.30 303.98,192.32 304.33,192.34 304.68,192.36 305.03,192.38 305.37,192.40 305.72,192.42 306.07,192.44 306.42,192.46 306.77,192.48 307.12,192.50 307.46,192.52 307.81,192.54 308.16,192.57 308.51,192.59 308.86,192.61 309.20,192.64 309.55,192.66 309.90,192.69 310.25,192.71 310.60,192.74 310.95,192.76 311.29,192.79 311.64,192.82 311.99,192.84 312.34,192.87 312.69,192.89 313.03,192.91 313.38,192.94 313.73,192.96 314.08,192.99 314.43,193.01 314.78,193.03 315.12,193.06 315.47,193.08 315.82,193.10 316.17,193.13 316.52,193.15 316.86,193.18 317.21,193.21 317.56,193.24 317.91,193.26 318.26,193.29 318.61,193.33 318.95,193.36 319.30,193.39 319.65,193.43 320.00,193.47 320.35,193.51 320.69,193.55 321.04,193.60 321.39,193.65 321.74,193.70 322.09,193.75 322.43,193.81 322.78,193.87 323.13,193.94 323.48,194.01 323.83,194.08 324.18,194.16 324.52,194.25 324.87,194.33 325.22,194.43 325.57,194.53 325.92,194.63 326.26,194.74 326.61,194.86 326.96,194.98 327.31,195.11 327.66,195.24 328.01,195.38 328.35,195.53 328.70,195.68 329.05,195.84 329.40,196.01 329.75,196.18 330.09,196.36 330.44,196.54 330.79,196.73 331.14,196.92 331.49,197.12 331.84,197.33 332.18,197.53 332.53,197.75 332.88,197.96 333.23,198.18 333.58,198.40 333.92,198.63 334.27,198.85 334.62,199.08 334.97,199.32 335.32,199.55 335.67,199.79 336.01,200.03 336.36,200.27 336.71,200.51 337.06,200.76 337.41,201.01 337.75,201.25 338.10,201.50 338.45,201.76 338.80,202.01 339.15,202.24 339.50,202.47 339.84,202.70 340.19,202.92 340.54,203.15 340.89,203.38 341.24,203.63 341.58,203.89 341.93,204.16 342.28,204.46 342.63,204.79 342.98,205.15 343.32,205.52 343.67,205.91 344.02,206.31 344.37,206.74 344.72,207.22 345.07,207.75 345.41,208.35 345.76,209.02 346.11,209.79 346.46,210.65 346.81,211.62 347.15,212.69 347.50,213.88 347.85,215.17 348.20,216.58 348.55,218.12 348.90,219.82 349.24,221.67 349.59,223.69 349.94,225.80 350.29,227.94 350.64,230.44 350.98,233.64 351.33,237.71 351.68,242.59 352.03,248.30 352.38,254.84 352.73,261.99 353.07,269.53 353.42,277.20 353.77,284.74 354.12,291.93 354.47,298.50" fill="none" stroke="#a6dcec" stroke-width="0.9"/>
<polyline points="215.20,189.73 215.55,189.74 215.90,189.74 216.25,189.74 216.60,189.75 216.94,189.75 217.29,189.76 217.64,189.76 217.99,189.76 218.34,189.77 218.69,189.77 219.04,189.78 219.39,189.78 219.74,189.78 220.09,189.79 220.43,189.79 220.78,189.79 221.13,189.80 221.48,189.80 221.83,189.80 222.18,189.81 222.53,189.81 222.88,189.81 223.23,189.82 223.58,189.82 223.92,189.82 224.27,189.82 224.62,189.83 224.97,189.83 225.32,189.83 225.67,189.84 226.02,189.84 226.37,189.84 226.72,189.85 227.07,189.85 227.41,189.85 227.76,189.86 228.11,189.86 228.46,189.86 228.81,189.86 229.16,189.87 229.51,189.87 229.86,189.87 230.21,189.88 230.56,189.88 230.90,189.88 231.25,189.89 231.60,189.89 231.95,189.89 232.30,189.90 232.65,189.90 233.00,189.90 233.35,189.91 233.70,189.91 234.05,189.92 234.39,189.92 234.74,189.92 235.09,189.93 235.44,189.93 235.79,189.93 236.14,189.94 236.49,189.94 236.84,189.95 237.19,189.95 237.54,189.96 237.88,189.96 238.23,189.96 238.58,189.97 238.93,189.97 239.28,189.98 239.63,189.98 239.98,189.99 240.33,189.99 240.68,190.00 241.02,190.00 241.37,190.01 241.72,190.01 242.07,190.02 242.42,190.03 242.77,190.03 243.12,190.04 243.47,190.04 243.82,190.05 244.17,190.06 244.51,190.06 244.86,190.07 245.21,190.07 245.56,190.08 245.91,190.09 246.26,190.10 246.61,190.10 246.96,190.11 247.31,190.12 247.66,190.12 248.00,190.13 248.35,190.14 248.70,190.15 249.05,190.16 249.40,190.16 249.75,190.17 250.10,190.18 250.45,190.19 250.80,190.20 251.15,190.20 251.49,190.21 251.84,190.22 252.19,190.23 252.54,190.24 252.89,190.25 253.24,190.26 253.59,190.26 253.94,190.27 254.29,190.28 254.64,190.29 254.98,190.30 255.33,190.31 255.68,190.32 256.03,190.33 256.38,190.34 256.73,190.35 257.08,190.36 257.43,190.36 257.78,190.37 258.13,190.38 258.47,190.39 258.82,190.40 259.17,190.41 259.52,190.42 259.87,190.43 260.22,190.44 260.57,190.45 260.92,190.46 261.27,190.47 261.62,190.48 261.96,190.49 262.31,190.50 262.66,190.51 263.01,190.52 263.36,190.53 263.71,190.54 264.06,190.56 264.41,190.57 264.76,190.58 265.10,190.59 265.45,190.60 265.80,190.61 266.15,190.62 266.50,190.63 266.85,190.64 267.20,190.65 267.55,190.66 267.90,190.67 268.25,190.69 268.59,190.70 268.94,190.71 269.29,190.72 269.64,190.73 269.99,190.74 270.34,190.75 270.69,190.77 271.04,190.78 271.39,190.79 271.74,190.80 272.08,190.81 272.43,190.82 272.78,190.84 273.13,190.85 273.48,190.86 273.83,190.87 274.18,190.88 274.53,190.90 274.88,190.91 275.23,190.92 275.57,190.93 275.92,190.95 276.27,190.96 276.62,190.97 276.97,190.98 277.32,191.00 277.67,191.01 278.02,191.02 278.37,191.03 278.72,191.05 279.06,191.06 279.41,191.07 279.76,191.08 280.11,191.10 280.46,191.11 280.81,191.12 281.16,191.14 281.51,191.15 281.86,191.16 282.21,191.18 282.55,191.19 282.90,191.20 283.25,191.22 283.60,191.23 283.95,191.24 284.30,191.26 284.65,191.27 285.00,191.28 285.35,191.30 285.70,191.31 286.04,191.32 286.39,191.34 286.74,191.35 287.09,191.36 287.44,191.38 287.79,191.39 288.14,191.41 288.49,191.42 288.84,191.43 289.19,191.45 289.53,191.46 289.88,191.48 290.23,191.49 290.58,191.50 290.93,191.52 291.28,191.53 291.63,191.55 291.98,191.56 292.33,191.57 292.67,191.59 293.02,191.60 293.37,191.61 293.72,191.63 294.07,191.64 294.42,191.65 294.77,191.67 295.12,191.68 295.47,191.69 295.82,191.71 296.16,191.72 296.51,191.74 296.86,191.75 297.21,191.76 297.56,191.78 297.91,191.79 298.26,191.81 298.61,191.82 298.96,191.84 299.31,191.85 299.65,191.86 300.00,191.88 300.35,191.90 300.70,191.91 301.05,191.93 301.40,191.94 301.75,191.96 302.10,191.98 302.45,191.99 302.80,192.01 303.14,192.03 303.49,192.04 303.84,192.06 304.19,192.08 304.54,192.10 304.89,192.12 305.24,192.14 305.59,192.15 305.94,192.17 306.29,192.19 306.63,192.21 306.98,192.24 307.33,192.26 307.68,192.28 308.03,192.30 308.38,192.32 308.73,192.35 309.08,192.37 309.43,192.39 309.78,192.42 310.12,192.44 310.47,192.47 310.82,192.49 311.17,192.52 311.52,192.55 311.87,192.57 312.22,192.60 312.57,192.62 312.92,192.65 313.27,192.67 313.61,192.69 313.96,192.72 314.31,192.74 314.66,192.76 315.01,192.79 315.36,192.81 315.71,192.83 316.06,192.85 316.41,192.88 316.75,192.90 317.10,192.93 317.45,192.95 317.80,192.98 318.15,193.00 318.50,193.03 318.85,193.06 319.20,193.09 319.55,193.12 319.90,193.15 320.24,193.18 320.59,193.22 320.94,193.26 321.29,193.30 321.64,193.34 321.99,193.38 322.34,193.43 322.69,193.47 323.04,193.52 323.39,193.58 323.73,193.63 324.08,193.69 324.43,193.76 324.78,193.82 325.13,193.89 325.48,193.97 325.83,194.04 326.18,194.13 326.53,194.21 326.88,194.30 327.22,194.39 327.57,194.49 327.92,194.59 328.27,194.70 328.62,194.81 328.97,194.93 329.32,195.05 329.67,195.17 330.02,195.30 330.37,195.44 330.71,195.58 331.06,195.72 331.41,195.86 331.76,196.01 332.11,196.17 332.46,196.32 332.81,196.48 333.16,196.64 333.51,196.81 333.86,196.97 334.20,197.14 334.55,197.32 334.90,197.49 335.25,197.67 335.60,197.86 335.95,198.04 336.30,198.23 336.65,198.43 337.00,198.62 337.35,198.82 337.69,199.03 338.04,199.24 338.39,199.45 338.74,199.67 339.09,199.89 339.44,200.10 339.79,200.31 340.14,200.51 340.49,200.72 340.83,200.94 341.18,201.16 341.53,201.40 341.88,201.66 342.23,201.94 342.58,202.25 342.93,202.59 343.28,202.97 343.63,203.36 343.98,203.77 344.32,204.20 344.67,204.66 345.02,205.17 345.37,205.74 345.72,206.38 346.07,207.10 346.42,207.91 346.77,208.82 347.12,209.84 347.47,210.96 347.81,212.20 348.16,213.55 348.51,215.02 348.86,216.62 349.21,218.37 349.56,220.29 349.91,222.37 350.26,224.53 350.61,226.73 350.96,229.30 351.30,232.55 351.65,236.68 352.00,241.63 352.35,247.40 352.70,254.00 353.05,261.22 353.40,268.81 353.75,276.54 354.10,284.15 354.45,291.39 354.79,298.01" fill="none" stroke="#43b4c4" stroke-width="0.9"/>
<polyline points="215.20,189.53 215.55,189.54 215.90,189.54 216.25,189.55 216.60,189.55 216.95,189.55 217.30,189.56 217.65,189.56 218.00,189.57 218.35,189.57 218.70,189.57 219.05,189.58 219.40,189.58 219.75,189.58 220.10,189.59 220.45,189.59 220.80,189.59 221.15,189.60 221.50,189.60 221.85,189.60 222.20,189.61 222.55,189.61 222.90,189.61 223.25,189.62 223.60,189.62 223.95,189.62 224.29,189.63 224.64,189.63 224.99,189.63 225.34,189.63 225.69,189.64 226.04,189.64 226.39,189.64 226.74,189.65 227.09,189.65 227.44,189.65 227.79,189.66 228.14,189.66 228.49,189.66 228.84,189.67 229.19,189.67 229.54,189.67 229.89,189.68 230.24,189.68 230.59,189.68 230.94,189.69 231.29,189.69 231.64,189.69 231.99,189.70 232.34,189.70 232.69,189.70 233.04,189.71 233.39,189.71 233.74,189.71 234.09,189.72 234.44,189.72 234.79,189.72 235.14,189.73 235.49,189.73 235.84,189.74 236.19,189.74 236.54,189.74 236.89,189.75 237.24,189.75 237.59,189.76 237.94,189.76 238.29,189.77 238.64,189.77 238.99,189.78 239.34,189.78 239.69,189.78 240.04,189.79 240.39,189.79 240.74,189.80 241.09,189.80 241.44,189.81 241.79,189.82 242.14,189.82 242.48,189.83 242.83,189.83 243.18,189.84 243.53,189.84 243.88,189.85 244.23,189.86 244.58,189.86 244.93,189.87 245.28,189.88 245.63,189.88 245.98,189.89 246.33,189.90 246.68,189.90 247.03,189.91 247.38,189.92 247.73,189.93 248.08,189.93 248.43,189.94 248.78,189.95 249.13,189.96 249.48,189.97 249.83,189.97 250.18,189.98 250.53,189.99 250.88,190.00 251.23,190.01 251.58,190.01 251.93,190.02 252.28,190.03 252.63,190.04 252.98,190.05 253.33,190.06 253.68,190.07 254.03,190.07 254.38,190.08 254.73,190.09 255.08,190.10 255.43,190.11 255.78,190.12 256.13,190.13 256.48,190.14 256.83,190.15 257.18,190.16 257.53,190.17 257.88,190.18 258.23,190.19 258.58,190.20 258.93,190.20 259.28,190.21 259.63,190.22 259.98,190.23 260.33,190.24 260.67,190.25 261.02,190.26 261.37,190.27 261.72,190.28 262.07,190.29 262.42,190.31 262.77,190.32 263.12,190.33 263.47,190.34 263.82,190.35 264.17,190.36 264.52,190.37 264.87,190.38 265.22,190.39 265.57,190.40 265.92,190.41 266.27,190.42 266.62,190.43 266.97,190.44 267.32,190.45 267.67,190.47 268.02,190.48 268.37,190.49 268.72,190.50 269.07,190.51 269.42,190.52 269.77,190.53 270.12,190.55 270.47,190.56 270.82,190.57 271.17,190.58 271.52,190.59 271.87,190.60 272.22,190.62 272.57,190.63 272.92,190.64 273.27,190.65 273.62,190.66 273.97,190.68 274.32,190.69 274.67,190.70 275.02,190.71 275.37,190.72 275.72,190.74 276.07,190.75 276.42,190.76 276.77,190.77 277.12,190.79 277.47,190.80 277.82,190.81 278.17,190.82 278.51,190.84 278.86,190.85 279.21,190.86 279.56,190.87 279.91,190.89 280.26,190.90 280.61,190.91 280.96,190.93 281.31,190.94 281.66,190.95 282.01,190.97 282.36,190.98 282.71,190.99 283.06,191.01 283.41,191.02 283.76,191.03 284.11,191.05 284.46,191.06 284.81,191.07 285.16,191.09 285.51,191.10 285.86,191.11 286.21,191.13 286.56,191.14 286.91,191.15 287.26,191.17 287.61,191.18 287.96,191.20 288.31,191.21 288.66,191.22 289.01,191.24 289.36,191.25 289.71,191.27 290.06,191.28 290.41,191.29 290.76,191.31 291.11,191.32 291.46,191.34 291.81,191.35 292.16,191.36 292.51,191.38 292.86,191.39 293.21,191.40 293.56,191.42 293.91,191.43 294.26,191.44 294.61,191.46 294.96,191.47 295.31,191.49 295.66,191.50 296.01,191.51 296.36,191.53 296.70,191.54 297.05,191.55 297.40,191.57 297.75,191.58 298.10,191.60 298.45,191.61 298.80,191.63 299.15,191.64 299.50,191.65 299.85,191.67 300.20,191.68 300.55,191.70 300.90,191.72 301.25,191.73 301.60,191.75 301.95,191.76 302.30,191.78 302.65,191.80 303.00,191.81 303.35,191.83 303.70,191.85 304.05,191.87 304.40,191.88 304.75,191.90 305.10,191.92 305.45,191.94 305.80,191.96 306.15,191.98 306.50,192.00 306.85,192.02 307.20,192.04 307.55,192.06 307.90,192.08 308.25,192.11 308.60,192.13 308.95,192.15 309.30,192.18 309.65,192.20 310.00,192.22 310.35,192.25 310.70,192.27 311.05,192.30 311.40,192.33 311.75,192.35 312.10,192.38 312.45,192.40 312.80,192.43 313.15,192.45 313.50,192.47 313.85,192.50 314.20,192.52 314.55,192.54 314.89,192.56 315.24,192.59 315.59,192.61 315.94,192.63 316.29,192.65 316.64,192.67 316.99,192.70 317.34,192.72 317.69,192.74 318.04,192.77 318.39,192.79 318.74,192.81 319.09,192.84 319.44,192.86 319.79,192.89 320.14,192.92 320.49,192.95 320.84,192.98 321.19,193.01 321.54,193.04 321.89,193.07 322.24,193.11 322.59,193.14 322.94,193.18 323.29,193.22 323.64,193.26 323.99,193.31 324.34,193.35 324.69,193.40 325.04,193.45 325.39,193.50 325.74,193.55 326.09,193.61 326.44,193.67 326.79,193.73 327.14,193.79 327.49,193.86 327.84,193.93 328.19,194.00 328.54,194.08 328.89,194.16 329.24,194.24 329.59,194.32 329.94,194.41 330.29,194.50 330.64,194.59 330.99,194.69 331.34,194.79 331.69,194.89 332.04,194.99 332.39,195.10 332.73,195.21 333.08,195.32 333.43,195.44 333.78,195.56 334.13,195.68 334.48,195.80 334.83,195.93 335.18,196.06 335.53,196.19 335.88,196.33 336.23,196.47 336.58,196.62 336.93,196.77 337.28,196.93 337.63,197.10 337.98,197.27 338.33,197.45 338.68,197.63 339.03,197.83 339.38,198.02 339.73,198.22 340.08,198.41 340.43,198.60 340.78,198.80 341.13,199.01 341.48,199.23 341.83,199.47 342.18,199.74 342.53,200.03 342.88,200.35 343.23,200.71 343.58,201.10 343.93,201.52 344.28,201.95 344.63,202.41 344.98,202.90 345.33,203.45 345.68,204.05 346.03,204.73 346.38,205.49 346.73,206.34 347.08,207.30 347.43,208.37 347.78,209.54 348.13,210.83 348.48,212.23 348.83,213.74 349.18,215.40 349.53,217.20 349.88,219.16 350.23,221.30 350.58,223.51 350.92,225.76 351.27,228.38 351.62,231.68 351.97,235.86 352.32,240.86 352.67,246.69 353.02,253.33 353.37,260.60 353.72,268.25 354.07,276.03 354.42,283.69 354.77,290.97 355.12,297.64" fill="none" stroke="#ebb6cc" stroke-width="0.9"/>
<polyline points="215.20,189.43 215.55,189.44 215.90,189.44 216.25,189.45 216.60,189.45 216.95,189.45 217.30,189.46 217.65,189.46 218.00,189.47 218.35,189.47 218.70,189.47 219.05,189.48 219.40,189.48 219.75,189.48 220.10,189.49 220.46,189.49 220.81,189.49 221.16,189.50 221.51,189.50 221.86,189.50 222.21,189.51 222.56,189.51 222.91,189.51 223.26,189.52 223.61,189.52 223.96,189.52 224.31,189.53 224.66,189.53 225.01,189.53 225.36,189.54 225.71,189.54 226.06,189.54 226.41,189.54 226.76,189.55 227.11,189.55 227.46,189.55 227.81,189.56 228.16,189.56 228.51,189.56 228.86,189.57 229.21,189.57 229.56,189.57 229.91,189.58 230.27,189.58 230.62,189.58 230.97,189.59 231.32,189.59 231.67,189.59 232.02,189.60 232.37,189.60 232.72,189.60 233.07,189.61 233.42,189.61 233.77,189.61 234.12,189.62 234.47,189.62 234.82,189.62 235.17,189.63 235.52,189.63 235.87,189.64 236.22,189.64 236.57,189.64 236.92,189.65 237.27,189.65 237.62,189.66 237.97,189.66 238.32,189.67 238.67,189.67 239.02,189.68 239.37,189.68 239.72,189.69 240.08,189.69 240.43,189.70 240.78,189.70 241.13,189.71 241.48,189.71 241.83,189.72 242.18,189.72 242.53,189.73 242.88,189.73 243.23,189.74 243.58,189.75 243.93,189.75 244.28,189.76 244.63,189.76 244.98,189.77 245.33,189.78 245.68,189.78 246.03,189.79 246.38,189.80 246.73,189.80 247.08,189.81 247.43,189.82 247.78,189.83 248.13,189.83 248.48,189.84 248.83,189.85 249.18,189.86 249.53,189.87 249.88,189.87 250.24,189.88 250.59,189.89 250.94,189.90 251.29,189.91 251.64,189.92 251.99,189.92 252.34,189.93 252.69,189.94 253.04,189.95 253.39,189.96 253.74,189.97 254.09,189.98 254.44,189.98 254.79,189.99 255.14,190.00 255.49,190.01 255.84,190.02 256.19,190.03 256.54,190.04 256.89,190.05 257.24,190.06 257.59,190.07 257.94,190.08 258.29,190.09 258.64,190.10 258.99,190.11 259.34,190.12 259.69,190.13 260.05,190.14 260.40,190.15 260.75,190.16 261.10,190.17 261.45,190.18 261.80,190.19 262.15,190.20 262.50,190.21 262.85,190.22 263.20,190.23 263.55,190.24 263.90,190.25 264.25,190.26 264.60,190.27 264.95,190.28 265.30,190.29 265.65,190.30 266.00,190.31 266.35,190.32 266.70,190.33 267.05,190.35 267.40,190.36 267.75,190.37 268.10,190.38 268.45,190.39 268.80,190.40 269.15,190.41 269.50,190.42 269.86,190.44 270.21,190.45 270.56,190.46 270.91,190.47 271.26,190.48 271.61,190.49 271.96,190.50 272.31,190.52 272.66,190.53 273.01,190.54 273.36,190.55 273.71,190.56 274.06,190.58 274.41,190.59 274.76,190.60 275.11,190.61 275.46,190.63 275.81,190.64 276.16,190.65 276.51,190.66 276.86,190.67 277.21,190.69 277.56,190.70 277.91,190.71 278.26,190.73 278.61,190.74 278.96,190.75 279.31,190.76 279.67,190.78 280.02,190.79 280.37,190.80 280.72,190.82 281.07,190.83 281.42,190.84 281.77,190.85 282.12,190.87 282.47,190.88 282.82,190.89 283.17,190.91 283.52,190.92 283.87,190.93 284.22,190.95 284.57,190.96 284.92,190.97 285.27,190.99 285.62,191.00 285.97,191.02 286.32,191.03 286.67,191.04 287.02,191.06 287.37,191.07 287.72,191.08 288.07,191.10 288.42,191.11 288.77,191.13 289.12,191.14 289.47,191.15 289.83,191.17 290.18,191.18 290.53,191.20 290.88,191.21 291.23,191.22 291.58,191.24 291.93,191.25 292.28,191.27 292.63,191.28 292.98,191.29 293.33,191.31 293.68,191.32 294.03,191.33 294.38,191.35 294.73,191.36 295.08,191.37 295.43,191.39 295.78,191.40 296.13,191.41 296.48,191.43 296.83,191.44 297.18,191.46 297.53,191.47 297.88,191.48 298.23,191.50 298.58,191.51 298.93,191.53 299.28,191.54 299.64,191.56 299.99,191.57 300.34,191.59 300.69,191.60 301.04,191.62 301.39,191.63 301.74,191.65 302.09,191.67 302.44,191.68 302.79,191.70 303.14,191.72 303.49,191.73 303.84,191.75 304.19,191.77 304.54,191.79 304.89,191.81 305.24,191.82 305.59,191.84 305.94,191.86 306.29,191.88 306.64,191.90 306.99,191.92 307.34,191.94 307.69,191.97 308.04,191.99 308.39,192.01 308.74,192.03 309.09,192.05 309.45,192.08 309.80,192.10 310.15,192.13 310.50,192.15 310.85,192.18 311.20,192.20 311.55,192.23 311.90,192.25 312.25,192.28 312.60,192.30 312.95,192.33 313.30,192.35 313.65,192.37 314.00,192.40 314.35,192.42 314.70,192.44 315.05,192.46 315.40,192.48 315.75,192.51 316.10,192.53 316.45,192.55 316.80,192.57 317.15,192.59 317.50,192.61 317.85,192.63 318.20,192.65 318.55,192.68 318.90,192.70 319.25,192.72 319.61,192.74 319.96,192.77 320.31,192.79 320.66,192.81 321.01,192.84 321.36,192.86 321.71,192.89 322.06,192.92 322.41,192.95 322.76,192.97 323.11,193.00 323.46,193.03 323.81,193.07 324.16,193.10 324.51,193.13 324.86,193.17 325.21,193.20 325.56,193.24 325.91,193.28 326.26,193.32 326.61,193.36 326.96,193.40 327.31,193.45 327.66,193.50 328.01,193.54 328.36,193.59 328.71,193.64 329.06,193.70 329.42,193.75 329.77,193.81 330.12,193.87 330.47,193.93 330.82,193.99 331.17,194.06 331.52,194.12 331.87,194.19 332.22,194.26 332.57,194.34 332.92,194.41 333.27,194.49 333.62,194.57 333.97,194.66 334.32,194.74 334.67,194.83 335.02,194.93 335.37,195.02 335.72,195.13 336.07,195.23 336.42,195.35 336.77,195.47 337.12,195.60 337.47,195.73 337.82,195.87 338.17,196.02 338.52,196.18 338.87,196.35 339.23,196.53 339.58,196.71 339.93,196.90 340.28,197.08 340.63,197.27 340.98,197.46 341.33,197.67 341.68,197.90 342.03,198.15 342.38,198.42 342.73,198.72 343.08,199.05 343.43,199.42 343.78,199.83 344.13,200.27 344.48,200.72 344.83,201.20 345.18,201.72 345.53,202.30 345.88,202.93 346.23,203.64 346.58,204.43 346.93,205.31 347.28,206.30 347.63,207.40 347.98,208.61 348.33,209.93 348.68,211.37 349.04,212.92 349.39,214.61 349.74,216.45 350.09,218.45 350.44,220.61 350.79,222.86 351.14,225.15 351.49,227.80 351.84,231.14 352.19,235.35 352.54,240.38 352.89,246.24 353.24,252.92 353.59,260.22 353.94,267.90 354.29,275.71 354.64,283.40 354.99,290.71 355.34,297.40" fill="none" stroke="#c8405e" stroke-width="0.9"/>
</g>
<text x="235.1" y="210.5" font-size="6.2" fill="#262626" stroke="#262626" stroke-width="0.16" text-anchor="start" ><tspan font-style="italic">J-V</tspan> Simulation based on various L</text>
<line x1="230.2" y1="224.6" x2="341" y2="224.6" stroke="#555" stroke-width="0.9"/>
<line x1="230.2" y1="241.6" x2="341" y2="241.6" stroke="#555" stroke-width="0.6"/>
<line x1="230.2" y1="286.8" x2="341" y2="286.8" stroke="#555" stroke-width="0.9"/>
<text x="245.6" y="236.2" font-size="6" fill="#262626" stroke="#262626" stroke-width="0.16" text-anchor="middle" >L (nm)</text>
<text x="265.5" y="231" font-size="6" fill="#262626" stroke="#262626" stroke-width="0.16" text-anchor="middle" ><tspan font-style="italic">V</tspan><tspan font-size="4" dy="1.3">oc</tspan></text>
<text x="265.5" y="239.2" font-size="6" fill="#262626" stroke="#262626" stroke-width="0.16" text-anchor="middle" >(V)</text>
<text x="290" y="231" font-size="6" fill="#262626" stroke="#262626" stroke-width="0.16" text-anchor="middle" ><tspan font-style="italic">J</tspan><tspan font-size="4" dy="1.3">sc</tspan></text>
<text x="290.5" y="239.2" font-size="6" fill="#262626" stroke="#262626" stroke-width="0.16" text-anchor="middle" >(mA cm<tspan font-size="4" dy="-2">-2</tspan><tspan dy="2">)</tspan></text>
<text x="311" y="231" font-size="6" fill="#262626" stroke="#262626" stroke-width="0.16" text-anchor="middle" >FF</text>
<text x="311" y="239.2" font-size="6" fill="#262626" stroke="#262626" stroke-width="0.16" text-anchor="middle" >(%)</text>
<text x="332.4" y="231" font-size="6" fill="#262626" stroke="#262626" stroke-width="0.16" text-anchor="middle" >PCE</text>
<text x="332.4" y="239.2" font-size="6" fill="#262626" stroke="#262626" stroke-width="0.16" text-anchor="middle" >(%)</text>
<line x1="230.5" y1="248.3" x2="244.4" y2="248.3" stroke="#a6dcec" stroke-width="0.9"/>
<text x="250.8" y="250.5" font-size="6" fill="#262626" stroke="#262626" stroke-width="0.16" text-anchor="middle" >660</text>
<text x="267.4" y="250.5" font-size="6" fill="#262626" stroke="#262626" stroke-width="0.16" text-anchor="middle" >1.273</text>
<text x="289.5" y="250.5" font-size="6" fill="#262626" stroke="#262626" stroke-width="0.16" text-anchor="middle" >21.57</text>
<text x="311" y="250.5" font-size="6" fill="#262626" stroke="#262626" stroke-width="0.16" text-anchor="middle" >81.24</text>
<text x="332.2" y="250.5" font-size="6" fill="#262626" stroke="#262626" stroke-width="0.16" text-anchor="middle" >22.31</text>
<line x1="230.5" y1="259.2" x2="244.4" y2="259.2" stroke="#43b4c4" stroke-width="0.9"/>
<text x="250.8" y="261.4" font-size="6" fill="#262626" stroke="#262626" stroke-width="0.16" text-anchor="middle" >760</text>
<text x="267.4" y="261.4" font-size="6" fill="#262626" stroke="#262626" stroke-width="0.16" text-anchor="middle" >1.276</text>
<text x="289.5" y="261.4" font-size="6" fill="#262626" stroke="#262626" stroke-width="0.16" text-anchor="middle" >21.62</text>
<text x="311" y="261.4" font-size="6" fill="#262626" stroke="#262626" stroke-width="0.16" text-anchor="middle" >82.57</text>
<text x="332.2" y="261.4" font-size="6" fill="#262626" stroke="#262626" stroke-width="0.16" text-anchor="middle" >22.78</text>
<line x1="230.5" y1="269" x2="244.4" y2="269" stroke="#ebb6cc" stroke-width="0.9"/>
<text x="250.8" y="271.2" font-size="6" fill="#262626" stroke="#262626" stroke-width="0.16" text-anchor="middle" >860</text>
<text x="267.4" y="271.2" font-size="6" fill="#262626" stroke="#262626" stroke-width="0.16" text-anchor="middle" >1.279</text>
<text x="289.5" y="271.2" font-size="6" fill="#262626" stroke="#262626" stroke-width="0.16" text-anchor="middle" >21.66</text>
<text x="311" y="271.2" font-size="6" fill="#262626" stroke="#262626" stroke-width="0.16" text-anchor="middle" >83.55</text>
<text x="332.2" y="271.2" font-size="6" fill="#262626" stroke="#262626" stroke-width="0.16" text-anchor="middle" >23.14</text>
<line x1="230.5" y1="279.2" x2="244.4" y2="279.2" stroke="#c8405e" stroke-width="0.9"/>
<text x="250.8" y="281.4" font-size="6" fill="#262626" stroke="#262626" stroke-width="0.16" text-anchor="middle" >960</text>
<text x="267.4" y="281.4" font-size="6" fill="#262626" stroke="#262626" stroke-width="0.16" text-anchor="middle" >1.281</text>
<text x="289.5" y="281.4" font-size="6" fill="#262626" stroke="#262626" stroke-width="0.16" text-anchor="middle" >21.68</text>
<text x="311" y="281.4" font-size="6" fill="#262626" stroke="#262626" stroke-width="0.16" text-anchor="middle" >84.32</text>
<text x="332.2" y="281.4" font-size="6" fill="#262626" stroke="#262626" stroke-width="0.16" text-anchor="middle" >23.42</text>
<text x="376.8" y="176" font-size="11.5" fill="#222" stroke="#222" stroke-width="0.22" text-anchor="start" >f</text>
<rect x="412.4" y="182.4" width="134.1" height="115.8" fill="none" stroke="#666" stroke-width="0.8"/>
<line x1="410.4" y1="298.20" x2="414.6" y2="298.20" stroke="#444" stroke-width="0.7"/>
<line x1="411.2" y1="280.86" x2="413.6" y2="280.86" stroke="#444" stroke-width="0.6"/>
<line x1="411.2" y1="270.72" x2="413.6" y2="270.72" stroke="#444" stroke-width="0.6"/>
<line x1="411.2" y1="263.52" x2="413.6" y2="263.52" stroke="#444" stroke-width="0.6"/>
<line x1="411.2" y1="257.94" x2="413.6" y2="257.94" stroke="#444" stroke-width="0.6"/>
<line x1="411.2" y1="253.38" x2="413.6" y2="253.38" stroke="#444" stroke-width="0.6"/>
<line x1="411.2" y1="249.52" x2="413.6" y2="249.52" stroke="#444" stroke-width="0.6"/>
<line x1="411.2" y1="246.18" x2="413.6" y2="246.18" stroke="#444" stroke-width="0.6"/>
<line x1="411.2" y1="243.24" x2="413.6" y2="243.24" stroke="#444" stroke-width="0.6"/>
<line x1="410.4" y1="240.60" x2="414.6" y2="240.60" stroke="#444" stroke-width="0.7"/>
<line x1="411.2" y1="223.26" x2="413.6" y2="223.26" stroke="#444" stroke-width="0.6"/>
<line x1="411.2" y1="213.12" x2="413.6" y2="213.12" stroke="#444" stroke-width="0.6"/>
<line x1="411.2" y1="205.92" x2="413.6" y2="205.92" stroke="#444" stroke-width="0.6"/>
<line x1="411.2" y1="200.34" x2="413.6" y2="200.34" stroke="#444" stroke-width="0.6"/>
<line x1="411.2" y1="195.78" x2="413.6" y2="195.78" stroke="#444" stroke-width="0.6"/>
<line x1="411.2" y1="191.92" x2="413.6" y2="191.92" stroke="#444" stroke-width="0.6"/>
<line x1="411.2" y1="188.58" x2="413.6" y2="188.58" stroke="#444" stroke-width="0.6"/>
<line x1="411.2" y1="185.64" x2="413.6" y2="185.64" stroke="#444" stroke-width="0.6"/>
<line x1="410.4" y1="183.00" x2="414.6" y2="183.00" stroke="#444" stroke-width="0.7"/>
<text x="409.2" y="184.6" font-size="5.9" fill="#262626" stroke="#262626" stroke-width="0.16" text-anchor="end" >100</text>
<text x="409.2" y="242.7" font-size="5.9" fill="#262626" stroke="#262626" stroke-width="0.16" text-anchor="end" >10</text>
<text x="409.2" y="300.3" font-size="5.9" fill="#262626" stroke="#262626" stroke-width="0.16" text-anchor="end" >1</text>
<line x1="412.40" y1="297" x2="412.40" y2="299.2" stroke="#444" stroke-width="0.6"/>
<line x1="427.40" y1="296" x2="427.40" y2="300.2" stroke="#444" stroke-width="0.7"/>
<text x="427.4" y="306.9" font-size="6.2" fill="#262626" stroke="#262626" stroke-width="0.16" text-anchor="middle" >400</text>
<line x1="442.40" y1="297" x2="442.40" y2="299.2" stroke="#444" stroke-width="0.6"/>
<line x1="457.40" y1="296" x2="457.40" y2="300.2" stroke="#444" stroke-width="0.7"/>
<text x="457.4" y="306.9" font-size="6.2" fill="#262626" stroke="#262626" stroke-width="0.16" text-anchor="middle" >600</text>
<line x1="472.40" y1="297" x2="472.40" y2="299.2" stroke="#444" stroke-width="0.6"/>
<line x1="487.40" y1="296" x2="487.40" y2="300.2" stroke="#444" stroke-width="0.7"/>
<text x="487.4" y="306.9" font-size="6.2" fill="#262626" stroke="#262626" stroke-width="0.16" text-anchor="middle" >800</text>
<line x1="502.40" y1="297" x2="502.40" y2="299.2" stroke="#444" stroke-width="0.6"/>
<line x1="517.40" y1="296" x2="517.40" y2="300.2" stroke="#444" stroke-width="0.7"/>
<text x="517.4" y="306.9" font-size="6.2" fill="#262626" stroke="#262626" stroke-width="0.16" text-anchor="middle" >1000</text>
<line x1="532.40" y1="297" x2="532.40" y2="299.2" stroke="#444" stroke-width="0.6"/>
<line x1="547.40" y1="296" x2="547.40" y2="300.2" stroke="#444" stroke-width="0.7"/>
<text x="547.4" y="306.9" font-size="6.2" fill="#262626" stroke="#262626" stroke-width="0.16" text-anchor="middle" >1200</text>
<text x="450.3" y="317.7" font-size="7.65" fill="#262626" stroke="#262626" stroke-width="0.16" text-anchor="start" >Wavelength (nm)</text>
<text transform="translate(396.6,240.4) rotate(-90)" font-size="7.7" fill="#262626" stroke="#262626" stroke-width="0.18" text-anchor="middle">Reflectance (%)</text>
<clipPath id="cf"><rect x="412.4" y="182.4" width="134.1" height="115.8"/></clipPath><g clip-path="url(#cf)">
<polyline points="412.40,274.49 413.04,274.01 413.93,273.41 414.99,272.69 416.15,271.88 417.34,270.99 418.48,270.02 419.51,269.01 420.35,267.96 421.01,266.80 421.58,265.50 422.06,264.09 422.48,262.65 422.86,261.21 423.22,259.83 423.57,258.55 423.95,257.44 424.32,256.48 424.67,255.61 424.99,254.82 425.30,254.11 425.61,253.46 425.93,252.85 426.28,252.29 426.65,251.76 426.97,251.26 427.18,250.79 427.36,250.37 427.58,250.00 427.90,249.68 428.41,249.43 429.17,249.26 430.25,249.17 431.68,249.18 433.41,249.30 435.38,249.49 437.53,249.76 439.82,250.06 442.18,250.38 444.56,250.70 446.90,250.99 449.31,251.30 451.88,251.64 454.55,252.02 457.26,252.39 459.94,252.76 462.52,253.09 464.95,253.37 467.15,253.59 469.08,253.73 470.76,253.80 472.28,253.83 473.71,253.83 475.13,253.81 476.61,253.79 478.22,253.78 480.05,253.80 482.14,253.85 484.43,253.92 486.85,254.00 489.34,254.07 491.82,254.14 494.22,254.20 496.47,254.23 498.50,254.23 500.33,254.21 502.03,254.20 503.62,254.18 505.11,254.14 506.51,254.06 507.85,253.93 509.12,253.73 510.35,253.46 511.50,253.15 512.56,252.83 513.53,252.48 514.44,252.06 515.31,251.55 516.15,250.92 516.99,250.13 517.85,249.17 518.71,247.98 519.53,246.58 520.34,245.02 521.13,243.35 521.92,241.60 522.70,239.84 523.49,238.11 524.30,236.46 525.13,234.83 525.97,233.14 526.82,231.42 527.67,229.72 528.52,228.06 529.34,226.47 530.14,224.98 530.90,223.64 531.61,222.44 532.28,221.37 532.91,220.39 533.53,219.50 534.15,218.65 534.78,217.84 535.45,217.04 536.15,216.22 536.91,215.38 537.72,214.53 538.55,213.69 539.40,212.89 540.25,212.13 541.08,211.44 541.86,210.84 542.60,210.36 543.31,210.00 544.03,209.75 544.73,209.60 545.40,209.51 546.02,209.48 546.58,209.46 547.04,209.44 547.40,209.41" fill="none" stroke="#7a7a7a" stroke-width="1.1"/>
<polyline points="412.40,243.04 412.78,243.10 413.30,243.17 413.91,243.25 414.58,243.34 415.30,243.45 416.02,243.57 416.71,243.72 417.35,243.88 417.95,244.11 418.53,244.41 419.12,244.76 419.69,245.11 420.27,245.43 420.84,245.69 421.42,245.85 422.00,245.87 422.56,245.72 423.10,245.43 423.63,245.03 424.16,244.57 424.71,244.08 425.30,243.63 425.94,243.24 426.65,242.96 427.40,242.77 428.17,242.61 428.96,242.49 429.81,242.40 430.72,242.37 431.71,242.37 432.80,242.43 434.00,242.55 435.35,242.74 436.83,243.00 438.42,243.32 440.09,243.68 441.81,244.07 443.53,244.48 445.24,244.88 446.90,245.26 448.55,245.65 450.24,246.08 451.95,246.52 453.66,246.97 455.34,247.40 456.96,247.81 458.50,248.17 459.95,248.47 461.27,248.72 462.47,248.92 463.59,249.09 464.66,249.22 465.71,249.33 466.78,249.41 467.90,249.47 469.10,249.52 470.36,249.55 471.64,249.56 472.94,249.54 474.27,249.50 475.63,249.44 477.05,249.36 478.52,249.27 480.05,249.17 481.74,249.03 483.62,248.86 485.61,248.66 487.62,248.45 489.57,248.24 491.36,248.05 492.92,247.90 494.15,247.80 495.03,247.73 495.62,247.68 495.99,247.65 496.19,247.65 496.31,247.68 496.39,247.74 496.50,247.83 496.70,247.96 496.89,248.17 496.97,248.45 496.99,248.79 497.02,249.15 497.12,249.51 497.36,249.83 497.80,250.08 498.50,250.25 499.53,250.33 500.86,250.38 502.40,250.38 504.07,250.33 505.78,250.24 507.46,250.11 509.01,249.93 510.35,249.70 511.51,249.43 512.58,249.12 513.57,248.76 514.50,248.36 515.38,247.91 516.22,247.41 517.04,246.87 517.85,246.28 518.62,245.67 519.32,245.06 519.98,244.43 520.62,243.74 521.24,242.96 521.88,242.08 522.54,241.05 523.25,239.86 524.01,238.44 524.79,236.80 525.59,234.99 526.41,233.08 527.24,231.14 528.06,229.23 528.89,227.41 529.70,225.76 530.51,224.22 531.31,222.71 532.12,221.25 532.92,219.84 533.73,218.50 534.54,217.25 535.34,216.08 536.15,215.02 536.97,214.06 537.80,213.20 538.64,212.41 539.48,211.71 540.30,211.10 541.10,210.56 541.87,210.09 542.60,209.69 543.31,209.40 544.03,209.23 544.73,209.15 545.40,209.14 546.02,209.18 546.58,209.22 547.04,209.26 547.40,209.26" fill="none" stroke="#3e8ec4" stroke-width="1.1"/>
<polyline points="412.40,248.13 412.80,248.44 413.34,248.86 413.98,249.35 414.69,249.90 415.42,250.48 416.13,251.07 416.79,251.64 417.35,252.16 417.81,252.71 418.20,253.34 418.55,254.01 418.88,254.65 419.20,255.23 419.54,255.68 419.92,255.96 420.35,256.01 420.85,255.79 421.39,255.31 421.97,254.64 422.56,253.86 423.16,253.03 423.75,252.23 424.32,251.53 424.85,250.99 425.24,250.58 425.47,250.20 425.61,249.85 425.78,249.57 426.05,249.34 426.53,249.20 427.30,249.13 428.45,249.17 430.08,249.31 432.14,249.57 434.52,249.91 437.08,250.33 439.72,250.80 442.32,251.31 444.75,251.83 446.90,252.36 448.74,252.92 450.38,253.55 451.88,254.22 453.32,254.92 454.78,255.62 456.32,256.28 458.02,256.90 459.95,257.44 462.14,257.91 464.52,258.33 467.04,258.71 469.66,259.05 472.32,259.38 474.98,259.68 477.57,259.99 480.05,260.30 482.48,260.61 484.93,260.93 487.38,261.23 489.79,261.53 492.14,261.80 494.39,262.06 496.52,262.28 498.50,262.48 500.33,262.66 502.05,262.84 503.66,263.00 505.17,263.13 506.59,263.22 507.92,263.26 509.17,263.24 510.35,263.15 511.41,263.03 512.34,262.92 513.16,262.78 513.91,262.57 514.62,262.25 515.31,261.80 516.03,261.16 516.80,260.30 517.61,259.20 518.41,257.87 519.22,256.37 520.02,254.72 520.83,252.97 521.64,251.15 522.44,249.30 523.25,247.47 524.06,245.57 524.86,243.55 525.67,241.44 526.48,239.30 527.28,237.16 528.09,235.05 528.89,233.03 529.70,231.13 530.51,229.32 531.31,227.55 532.12,225.82 532.92,224.16 533.73,222.56 534.54,221.04 535.34,219.61 536.15,218.29 536.97,217.05 537.80,215.89 538.64,214.81 539.48,213.81 540.30,212.91 541.10,212.11 541.87,211.40 542.60,210.81 543.31,210.36 544.03,210.06 544.73,209.88 545.40,209.78 546.02,209.75 546.58,209.75 547.04,209.74 547.40,209.69" fill="none" stroke="#c8282c" stroke-width="1.1"/>
</g>
<line x1="469.6" y1="204.2" x2="483.3" y2="204.2" stroke="#7a7a7a" stroke-width="1.1"/>
<text x="485.5" y="206.29999999999998" font-size="6" fill="#262626" stroke="#262626" stroke-width="0.16" text-anchor="start" >ITS</text>
<line x1="469.6" y1="212" x2="483.3" y2="212" stroke="#3e8ec4" stroke-width="1.1"/>
<text x="485.5" y="214.1" font-size="6" fill="#262626" stroke="#262626" stroke-width="0.16" text-anchor="start" >STS</text>
<line x1="469.6" y1="219.6" x2="483.3" y2="219.6" stroke="#c8282c" stroke-width="1.1"/>
<text x="485.5" y="221.7" font-size="6" fill="#262626" stroke="#262626" stroke-width="0.16" text-anchor="start" >ITS(SiO<tspan font-size="4" dy="1.2">x</tspan><tspan dy="-1.2">)</tspan></text>
<rect x="0" y="323" width="554" height="2" fill="#111"/>
</svg></body></html>
